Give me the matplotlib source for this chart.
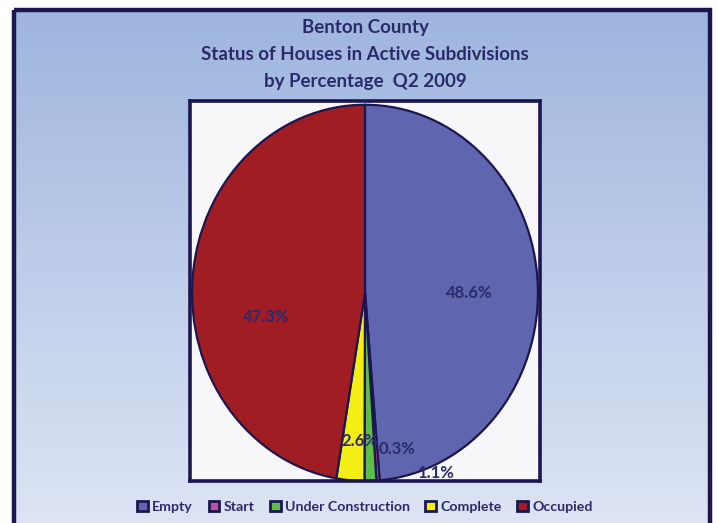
import numpy as np
import matplotlib
matplotlib.use("Agg")
import matplotlib.pyplot as plt
from matplotlib.patches import Rectangle, Patch

# Q2 2009 status breakdown (percent of houses)
categories = ["Empty", "Start", "Under Construction", "Complete", "Occupied"]
shares = [48.6, 0.3, 1.1, 2.6, 47.3]
colors = ["#6065b0", "#c24f9c", "#5cbd48", "#f5ee14", "#a11d24"]
title_lines = ["Benton County", "Status of Houses in Active Subdivisions",
               "by Percentage  Q2 2009"]

navy = "#1c1650"
text_col = "#2b2a6c"
plt.rcParams["font.family"] = ["Lato", "DejaVu Sans"]

W, H = 717, 523
fig = plt.figure(figsize=(W / 100, H / 100), dpi=100)

# gradient backdrop for the chart area
bg = fig.add_axes([0, 0, 1, 1])
bg.set_xlim(0, W)
bg.set_ylim(H, 0)
bg.axis("off")
grad = np.linspace(0, 1, 256)[:, None]
top = np.array([0.62, 0.71, 0.87])
bottom = np.array([0.87, 0.90, 0.96])
img = top + (bottom - top) * grad[..., None]
bg.imshow(img, extent=[14, 710, 532, 10], aspect="auto", zorder=0)
bg.add_patch(Rectangle((14, 10), 696, 530, fill=False, ec=navy, lw=3.2, zorder=2))

for i, line in enumerate(title_lines):
    bg.text(365, 28 + 27 * i, line, ha="center", va="center", fontsize=13.5,
            fontweight="bold", color=text_col)

# plot area
x0, x1, y0, y1 = 190, 540, 101, 481
ax = fig.add_axes([x0 / W, 1 - y1 / H, (x1 - x0) / W, (y1 - y0) / H])
ax.set_facecolor("#f7f7fa")
wedges, _ = ax.pie(shares, colors=colors, startangle=90, counterclock=False,
                   wedgeprops=dict(edgecolor=navy, linewidth=1.6),
                   frame=True)
ax.set_aspect("auto")
ax.set_xlim(-1.012, 1.012)
ax.set_ylim(-1.0, 1.02)
ax.set_xticks([])
ax.set_yticks([])
for s in ax.spines.values():
    s.set_color(navy)
    s.set_linewidth(2.6)

# percentage labels, placed in pie units
label_pos = [(0.60, 0.0), (0.185, -0.83), (0.41, -0.96), (-0.03, -0.79), (-0.57, -0.13)]
for v, (lx, ly) in zip(shares, label_pos):
    ax.text(lx, ly, f"{v:.1f}%", ha="center", va="center", fontsize=12,
            fontweight="bold", color=text_col, clip_on=False, zorder=5)

handles = [Patch(facecolor=c, edgecolor=navy, linewidth=2) for c in colors]
leg = fig.legend(handles, categories, loc="center", bbox_to_anchor=(365 / W, 1 - 507 / H),
                 ncol=5, frameon=False, handlelength=0.75, handleheight=0.75,
                 handletextpad=0.3, columnspacing=1.1,
                 prop=dict(weight="bold", size=10.2))
for t in leg.get_texts():
    t.set_color(text_col)

fig.savefig("out.png", dpi=100)
